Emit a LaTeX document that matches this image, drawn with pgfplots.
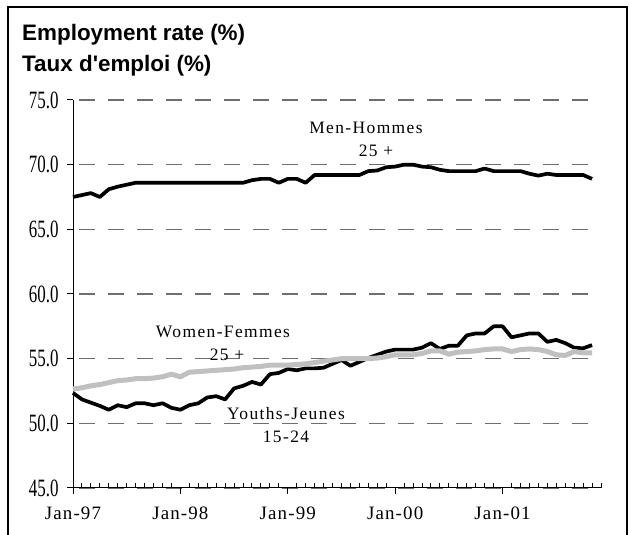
\documentclass[border=0pt]{standalone}
\usepackage{pgfplots}
\pgfplotsset{compat=1.18}
\usepackage{fontspec}
\setmainfont{Liberation Serif}
\newfontfamily\titlefont{Liberation Sans}
\newfontfamily\ytickfont[FakeStretch=0.68]{Liberation Serif}
\newfontfamily\lblfont[LetterSpace=8]{Liberation Serif}
\newfontfamily\xtickfont[LetterSpace=6]{Liberation Serif}
\definecolor{wgray}{RGB}{192,192,192}
\definecolor{gridgray}{RGB}{110,110,110}

\begin{document}
\begin{tikzpicture}[x=1bp,y=1bp]
\useasboundingbox (0,0) rectangle (640,535);
\draw[line width=1.5bp] (8,0) -- (8,528) -- (627,528) -- (627,0);

\node[anchor=base west, font=\titlefont\bfseries\fontsize{22.5}{22.5}\selectfont, inner sep=0pt] at (22,494) {Employment rate (\%)};
\node[anchor=base west, font=\titlefont\bfseries\fontsize{22.5}{22.5}\selectfont, inner sep=0pt] at (22,463) {Taux d'emploi (\%)};

\begin{axis}[
	at={(73bp,47bp)}, anchor=south west,
	scale only axis, width=528bp, height=388bp,
	xmin=0, xmax=59, ymin=45, ymax=75,
	clip=false,
	axis x line*=bottom, axis y line*=left,
	axis line style={black, line width=1bp},
	ytick={45,50,55,60,65,70,75},
	ytick align=outside,
	major tick length=6bp, minor tick length=5bp,
	every tick/.style={black, line width=1bp},
	ymajorgrids,
	major y grid style={gridgray, line width=1.1bp, dash pattern=on 16bp off 13bp, dash phase=-6bp},
	yticklabel style={font=\ytickfont\fontsize{25}{25}\selectfont, xshift=-5bp,
		/pgf/number format/.cd, fixed, fixed zerofill, precision=1, assume math mode=true},
	xtick={0,12,24,36,48},
	xticklabels={Jan-97,Jan-98,Jan-99,Jan-00,Jan-01},
	minor xtick={1,...,11,13,14,...,23,25,26,...,35,37,38,...,47,49,50,...,59},
	xtick align=inside,
	major x tick style={yshift=-6bp},
	xticklabel style={font=\xtickfont\fontsize{19}{19}\selectfont, yshift=-15bp},
]
% Men-Hommes 25+
\addplot[black, line width=3.7bp, line join=round] coordinates {
(0,67.5) (1,67.65) (2,67.8) (3,67.5) (4,68.1) (5,68.3) (6,68.45) (7,68.6) (8,68.6) (9,68.6)
(10,68.6) (11,68.6) (12,68.6) (13,68.6) (14,68.6) (15,68.6) (16,68.6) (17,68.6) (18,68.6) (19,68.6)
(20,68.8) (21,68.9) (22,68.9) (23,68.6) (24,68.9) (25,68.9) (26,68.6) (27,69.2) (28,69.2) (29,69.2)
(30,69.2) (31,69.2) (32,69.2) (33,69.5) (34,69.55) (35,69.8) (36,69.85) (37,70.0) (38,70.0) (39,69.85)
(40,69.8) (41,69.6) (42,69.5) (43,69.5) (44,69.5) (45,69.5) (46,69.7) (47,69.5) (48,69.5) (49,69.5)
(50,69.5) (51,69.3) (52,69.15) (53,69.3) (54,69.2) (55,69.2) (56,69.2) (57,69.2) (58,68.9)
};
% Youths-Jeunes 15-24
\addplot[black, line width=3.7bp, line join=round] coordinates {
(0,52.35) (1,51.85) (2,51.6) (3,51.35) (4,51.05) (5,51.4) (6,51.25) (7,51.55) (8,51.55) (9,51.4)
(10,51.55) (11,51.2) (12,51.05) (13,51.4) (14,51.55) (15,52.0) (16,52.1) (17,51.85) (18,52.7) (19,52.9)
(20,53.2) (21,53.0) (22,53.8) (23,53.9) (24,54.2) (25,54.1) (26,54.25) (27,54.25) (28,54.3) (29,54.6)
(30,54.9) (31,54.45) (32,54.75) (33,55.05) (34,55.3) (35,55.55) (36,55.7) (37,55.7) (38,55.7) (39,55.85)
(40,56.2) (41,55.75) (42,56.0) (43,56.0) (44,56.8) (45,56.95) (46,56.95) (47,57.5) (48,57.5) (49,56.65)
(50,56.8) (51,56.95) (52,56.95) (53,56.3) (54,56.45) (55,56.2) (56,55.85) (57,55.8) (58,56.05)
};
% Women-Femmes 25+
\addplot[wgray, line width=5bp, line join=round] coordinates {
(0,52.65) (1,52.75) (2,52.9) (3,53.0) (4,53.15) (5,53.3) (6,53.35) (7,53.45) (8,53.45) (9,53.5)
(10,53.6) (11,53.8) (12,53.6) (13,53.95) (14,54.0) (15,54.05) (16,54.1) (17,54.15) (18,54.2) (19,54.3)
(20,54.35) (21,54.4) (22,54.5) (23,54.5) (24,54.5) (25,54.55) (26,54.6) (27,54.7) (28,54.8) (29,54.9)
(30,55.0) (31,55.0) (32,55.0) (33,55.0) (34,55.05) (35,55.15) (36,55.3) (37,55.3) (38,55.3) (39,55.4)
(40,55.6) (41,55.6) (42,55.35) (43,55.5) (44,55.55) (45,55.6) (46,55.7) (47,55.75) (48,55.75) (49,55.55)
(50,55.7) (51,55.75) (52,55.7) (53,55.55) (54,55.3) (55,55.25) (56,55.55) (57,55.45) (58,55.45)
};
\end{axis}

\begin{scope}[every node/.style={font=\lblfont\fontsize{17.5}{17.5}\selectfont, inner sep=0pt}]
\node at (366,407) {Men-Hommes};
\node at (376,384) {25 +};
\node at (223,203) {Women-Femmes};
\node at (227,180) {25 +};
\node at (286,121) {Youths-Jeunes};
\node at (286,98) {15-24};
\end{scope}
\end{tikzpicture}
\end{document}
